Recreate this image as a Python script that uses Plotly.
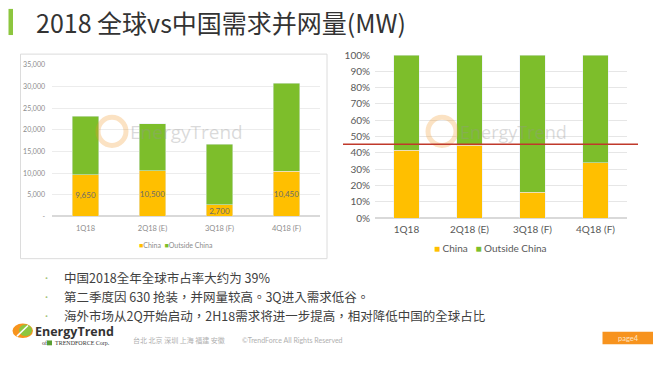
import plotly.graph_objects as go

W, H = 667, 376

# ---------------- data ----------------
quarters = ["1Q18", "2Q18 (E)", "3Q18 (F)", "4Q18 (F)"]
series_names = ["China", "Outside China"]
china_mw = [9650, 10500, 2700, 10450]
outside_mw = [13500, 10850, 14000, 20300]
china_pct = [41.6, 44.6, 15.9, 34.0]
outside_pct = [58.4, 55.4, 84.1, 66.0]
threshold_pct = 45.3
mw_tickvals = [0, 5000, 10000, 15000, 20000, 25000, 30000, 35000]
mw_ticktext = ["-", "5,000", "10,000", "15,000", "20,000", "25,000", "30,000", "35,000"]

title_text = "2018 全球vs中国需求并网量(MW)"
bullets = [
    "中国2018全年全球市占率大约为 39%",
    "第二季度因 630 抢装，并网量较高。3Q进入需求低谷。",
    "海外市场从2Q开始启动，2H18需求将进一步提高，相对降低中国的全球占比",
]
footer_cities = "台北 北京 深圳 上海 福建 安徽"
footer_copy = "©TrendForce All Rights Reserved"
page_label = "page4"

ORANGE = "#FFBF00"
GREEN = "#7DBE2B"
CJK = "Noto Sans CJK SC"
CJK_TC = "Noto Sans CJK TC"
LAT = "Lato"


def px(x):
    return x / W


def py(y):
    return 1 - y / H


fig = go.Figure()

# left chart: stacked MW
fig.add_trace(go.Bar(x=quarters, y=china_mw, name=series_names[0], marker_color=ORANGE,
                     xaxis="x", yaxis="y", showlegend=False,
                     texttemplate="%{y:,}", textposition="inside", insidetextanchor="middle",
                     textangle=0, constraintext="none",
                     textfont=dict(size=8, color="#6b6b6b", family=LAT), hoverinfo="skip"))
fig.add_trace(go.Bar(x=quarters, y=outside_mw, name=series_names[1], marker_color=GREEN,
                     xaxis="x", yaxis="y", showlegend=False, hoverinfo="skip"))
# right chart: stacked %
fig.add_trace(go.Bar(x=quarters, y=china_pct, name=series_names[0], marker_color=ORANGE,
                     xaxis="x2", yaxis="y2", showlegend=False, hoverinfo="skip"))
fig.add_trace(go.Bar(x=quarters, y=outside_pct, name=series_names[1], marker_color=GREEN,
                     xaxis="x2", yaxis="y2", showlegend=False, hoverinfo="skip"))

shapes = []
annotations = []

# title bar + title
shapes.append(dict(type="rect", xref="paper", yref="paper", x0=px(8.5), x1=px(13), y0=py(30), y1=py(3),
                   fillcolor="#8DC63F", line=dict(width=0)))
annotations.append(dict(text=title_text, xref="paper", yref="paper", x=px(34), y=py(17),
                        xanchor="left", yanchor="middle", showarrow=False,
                        font=dict(family=CJK, size=25, color="#333333")))

# left chart frame
shapes.append(dict(type="rect", xref="paper", yref="paper", x0=px(20.5), x1=px(327), y0=py(261), y1=py(49.7),
                   line=dict(color="#dcdcdc", width=1), fillcolor="rgba(0,0,0,0)", layer="below"))

# watermarks
for cx, tx, fs in [(112, 128, 19), (442, 458, 18)]:
    shapes.append(dict(type="circle", xref="paper", yref="paper", x0=px(cx - 14), x1=px(cx + 14),
                       y0=py(144), y1=py(115), line=dict(color="rgba(240,150,40,0.28)", width=5),
                       fillcolor="rgba(0,0,0,0)"))
    annotations.append(dict(text="EnergyTrend", xref="paper", yref="paper", x=px(tx), y=py(130),
                            xanchor="left", yanchor="middle", showarrow=False,
                            font=dict(family="Open Sans", size=fs, color="rgba(150,150,150,0.35)")))

# red reference line on the right chart
shapes.append(dict(type="line", xref="paper", yref="y2", x0=px(343), x1=px(638),
                   y0=threshold_pct, y1=threshold_pct, line=dict(color="#C0392B", width=1.5)))

# legends
annotations.append(dict(
    text=f"<span style='color:{ORANGE}'>■</span>{series_names[0]}  <span style='color:{GREEN}'>■</span>{series_names[1]}",
    xref="paper", yref="paper", x=px(176), y=py(246.5), xanchor="center", yanchor="middle",
    showarrow=False, font=dict(family=LAT, size=7, color="#8c8c8c")))
annotations.append(dict(
    text=f"<span style='color:{ORANGE}'>■</span> {series_names[0]}   <span style='color:{GREEN}'>■</span> {series_names[1]}",
    xref="paper", yref="paper", x=px(490), y=py(250), xanchor="center", yanchor="middle",
    showarrow=False, font=dict(family=LAT, size=10, color="#595959")))

# bullets
for i, b in enumerate(bullets):
    yy = 280 + i * 20
    annotations.append(dict(text="•", xref="paper", yref="paper", x=px(46.5), y=py(yy), xanchor="center",
                            yanchor="middle", showarrow=False, font=dict(size=8, color="#a5c47a")))
    annotations.append(dict(text=b, xref="paper", yref="paper", x=px(62), y=py(yy), xanchor="left",
                            yanchor="middle", showarrow=False, font=dict(family=CJK_TC, size=12.5, color="#404040")))

# footer logo
shapes.append(dict(type="circle", xref="paper", yref="paper", x0=px(12.5), x1=px(33), y0=py(343), y1=py(328),
                   fillcolor="#F7941D", line=dict(width=0)))
shapes.append(dict(type="circle", xref="paper", yref="paper", x0=px(19), x1=px(32), y0=py(341), y1=py(329),
                   fillcolor="#8DC63F", line=dict(width=0)))
shapes.append(dict(type="line", xref="paper", yref="paper", x0=px(17), x1=px(28), y0=py(341), y1=py(330),
                   line=dict(color="white", width=1.5)))
annotations.append(dict(text="<b>EnergyTrend</b>", xref="paper", yref="paper", x=px(33), y=py(336),
                        xanchor="left", yanchor="middle", showarrow=False,
                        font=dict(family="Open Sans", size=12.5, color="#333333")))
shapes.append(dict(type="rect", xref="paper", yref="paper", x0=px(47), x1=px(52), y0=py(350.5), y1=py(345.5),
                   fillcolor="#5a9e32", line=dict(width=0)))
annotations.append(dict(text="of", xref="paper", yref="paper", x=px(40), y=py(348), xanchor="left",
                        yanchor="middle", showarrow=False, font=dict(family="Liberation Serif", size=6, color="#333")))
annotations.append(dict(text="TRENDFORCE Corp.", xref="paper", yref="paper", x=px(53), y=py(348), xanchor="left",
                        yanchor="middle", showarrow=False, font=dict(family="Liberation Serif", size=6, color="#333")))
annotations.append(dict(text=footer_cities, xref="paper", yref="paper", x=px(131), y=py(345), xanchor="left",
                        yanchor="middle", showarrow=False, font=dict(family=CJK, size=7, color="#b0b0b0")))
annotations.append(dict(text=footer_copy, xref="paper", yref="paper", x=px(240), y=py(345), xanchor="left",
                        yanchor="middle", showarrow=False, font=dict(family=LAT, size=7, color="#b0b0b0")))
shapes.append(dict(type="rect", xref="paper", yref="paper", x0=px(602.5), x1=px(653), y0=py(349.5), y1=py(336.5),
                   fillcolor="#F7931E", line=dict(width=0)))
annotations.append(dict(text=page_label, xref="paper", yref="paper", x=px(628), y=py(343), xanchor="center",
                        yanchor="middle", showarrow=False, font=dict(family=LAT, size=7.5, color="#fde3c4")))

fig.update_layout(
    width=W, height=H, margin=dict(l=0, r=0, t=0, b=0),
    paper_bgcolor="white", plot_bgcolor="rgba(0,0,0,0)",
    barmode="stack", bargap=0.6, showlegend=False,
    uniformtext=dict(mode=False),
    shapes=shapes, annotations=annotations,
    xaxis=dict(domain=[px(52), px(320)], anchor="y", showline=False, showgrid=False, ticks="",
               ticklabelstandoff=6,
               tickfont=dict(family=LAT, size=7.5, color="#8c8c8c"), fixedrange=True),
    yaxis=dict(domain=[py(217.3), py(60.7)], anchor="x", range=[0, 35000], tickvals=mw_tickvals,
               ticktext=mw_ticktext, showgrid=True, gridcolor="#ececec", gridwidth=1, zeroline=True,
               zerolinecolor="#d9d9d9", ticks="", ticklabelstandoff=6,
               tickfont=dict(family=LAT, size=7, color="#8c8c8c"), fixedrange=True),
    xaxis2=dict(domain=[px(375), px(627)], anchor="y2", showline=False, showgrid=False, ticks="",
                ticklabelstandoff=4,
                tickfont=dict(family=LAT, size=10, color="#595959"), fixedrange=True),
    yaxis2=dict(domain=[py(219), py(50.7)], anchor="x2", range=[0, 100], dtick=10, ticksuffix="%",
                showgrid=True, gridcolor="#e6e6e6", gridwidth=1, zeroline=True, zerolinecolor="#d9d9d9",
                ticks="", ticklabelstandoff=4,
                tickfont=dict(family=LAT, size=10, color="#595959"), fixedrange=True),
)

fig.write_html("out.html", config={"displayModeBar": False},
               post_script="document.body.style.margin='0';document.body.style.overflow='hidden';")
